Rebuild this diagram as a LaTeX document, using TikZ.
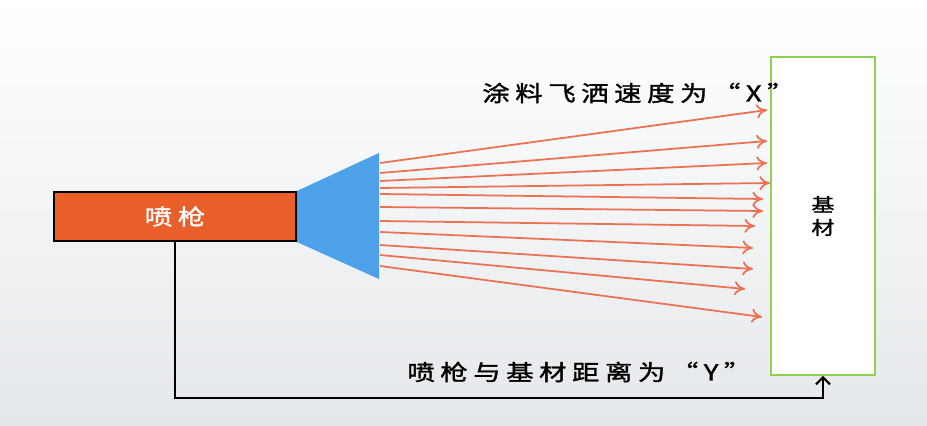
\documentclass[tikz,border=0pt]{standalone}
\usepackage{fontspec}
\newfontfamily\cjk[FakeStretch=1.25,LetterSpace=25,FakeBold=1.5]{Noto Sans CJK SC}
\usetikzlibrary{arrows.meta}
\definecolor{gunred}{RGB}{234,94,42}
\definecolor{nozzleblue}{RGB}{77,161,232}
\definecolor{spray}{RGB}{238,112,82}
\definecolor{boardgreen}{RGB}{146,208,80}
\definecolor{bgbottom}{RGB}{229,232,235}

\begin{document}
\begin{tikzpicture}
      [x=0.02cm, y=-0.02cm,
        cjklabel/.style={font=\cjk\fontsize{12.5}{15}\selectfont, inner sep=0pt},
        ray/.style={draw=spray, line width=1pt, -{To[length=6pt,width=8pt]}},
        wire/.style={draw=black, line width=1.2pt, -{Straight Barb[length=4pt,width=8pt]}}]
    \shade[top color=white, bottom color=bgbottom] (0,0) rectangle (927,426);
    \useasboundingbox (0,0) rectangle (927,426);
      \node[draw, line width=1.2pt, fill=gunred, minimum width=4.84cm, minimum height=0.98cm,
            inner sep=0pt, text=white, cjklabel] (gun) at (175,216.5) {喷枪};
      % nozzle
      \fill[nozzleblue] (gun.north east) -- (379,153) -- (379,279) -- (gun.south east) -- cycle;
      \node[draw=boardgreen, line width=1pt, fill=white, minimum width=2.08cm, minimum height=6.36cm,
            align=center, font=\cjk\fontsize{10.5}{13}\selectfont] (board) at (823,216) {基\\材};
      \foreach \i/\sy/\ex/\ey in {1/163/767/110, 2/173/767/141, 3/181/767/163, 4/188/770/183,
          5/194/763/199, 6/207/763/211, 7/221/755/226, 8/232/753/248, 9/245/753/269,
          10/255/745/289, 11/266/762/317}{
        \coordinate (s\i) at (380,\sy);
        \coordinate (e\i) at (\ex,\ey);
        \draw[ray] (s\i) -- (e\i);
      }
      \node[cjklabel, anchor=west] (speed) at (482,93) {涂料飞洒速度为“X”};
      \node[cjklabel, anchor=west] (dist) at (407,372) {喷枪与基材距离为“Y”};
      \draw[wire] (gun.south) |- (board.south |- 0,398) -- (board.south);
    \end{tikzpicture}
\end{document}
